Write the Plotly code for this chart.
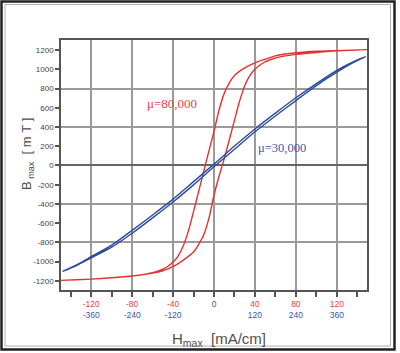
import plotly.graph_objects as go

# ---------------- data ----------------
# mu = 80,000 loop (H in mA/cm, red scale; B in mT)
red_desc_H = [150, 120, 100, 80, 60, 50, 40, 30, 20, 15, 10, 5, 0, -5, -10, -15, -20, -25, -30, -35, -40, -45, -50, -60, -80, -100, -120, -150]
red_desc_B = [1205, 1195, 1188, 1172, 1140, 1105, 1068, 1015, 935, 860, 750, 580, 355, 150, -60, -270, -480, -680, -835, -940, -1005, -1048, -1078, -1115, -1150, -1168, -1182, -1195]
red_asc_H = [-150, -120, -100, -80, -60, -50, -45, -40, -35, -30, -20, -15, -10, -5, 0, 5, 10, 15, 20, 25, 30, 35, 40, 45, 50, 60, 80, 100, 120, 150]
red_asc_B = [-1195, -1182, -1168, -1150, -1120, -1095, -1075, -1050, -1020, -985, -900, -820, -720, -550, -310, -110, 70, 270, 470, 670, 830, 935, 1000, 1045, 1078, 1118, 1155, 1175, 1192, 1205]

# mu = 30,000 loop (H in mA/cm, blue scale; B in mT)
blue_desc_H = [444, 400, 360, 300, 240, 180, 120, 60, 0, -60, -120, -180, -240, -300, -360, -400, -444]
blue_desc_B = [1132, 1065, 990, 852, 704, 544, 380, 202, 14, -168, -350, -515, -675, -828, -948, -1028, -1102]
blue_asc_H = [-444, -400, -360, -300, -240, -180, -120, -60, 0, 60, 120, 180, 240, 300, 360, 400, 444]
blue_asc_B = [-1102, -1035, -962, -850, -705, -545, -380, -202, -14, 168, 350, 515, 675, 830, 970, 1055, 1132]

# tick labels
red_ticks = [-120, -80, -40, 0, 40, 80, 120]
blue_ticks = [-360, -240, -120, None, 120, 240, 360]
y_ticks = [1200, 1000, 800, 600, 400, 200, 0, -200, -400, -600, -800, -1000, -1200]
y_grid = [-800, -400, 0, 400, 800]

RED = "#e2332e"
BLUE = "#2c4c9c"
RED_T = "#e8443c"
BLUE_T = "#3a58a8"
GRID = "#9a9a9a"
AX = "#555555"

# ---------------- figure ----------------
fig = go.Figure()
fig.add_trace(go.Scatter(x=red_desc_H + red_asc_H, y=red_desc_B + red_asc_B,
                         mode="lines", line=dict(color=RED, width=1.4, shape="spline", smoothing=0.6),
                         xaxis="x", yaxis="y", hoverinfo="skip"))
fig.add_trace(go.Scatter(x=blue_desc_H + blue_asc_H, y=blue_desc_B + blue_asc_B,
                         mode="lines", line=dict(color=BLUE, width=1.4, shape="spline", smoothing=0.6),
                         xaxis="x2", yaxis="y2", hoverinfo="skip"))

ticktext = []
for r, b in zip(red_ticks, blue_ticks):
    if b is None:
        ticktext.append('<span style="color:#555555">%d</span>' % r)
    else:
        ticktext.append('<span style="color:%s">%d</span><br><span style="color:%s">%d</span>' % (RED_T, r, BLUE_T, b))

XR = [-149.5, 149.5]
YR = [-1295, 1305]

fig.update_layout(
    width=400, height=353,
    margin=dict(l=61, r=33, t=40, b=63),
    paper_bgcolor="white", plot_bgcolor="white",
    showlegend=False,
    font=dict(family="Liberation Sans, Arial, sans-serif", size=8, color="#444444"),
    xaxis=dict(range=XR, tickmode="array", tickvals=red_ticks, ticktext=ticktext,
               showgrid=True, gridcolor=GRID, gridwidth=1.5, zeroline=False,
               ticks="outside", ticklen=5, tickwidth=1.5, tickcolor=AX,
               minor=dict(dtick=20, tick0=0, ticks="outside", ticklen=5, tickwidth=1.5, tickcolor=AX, showgrid=False),
               showline=True, linecolor=AX, linewidth=1.5, mirror=True,
               tickfont=dict(size=8.5), fixedrange=True),
    xaxis2=dict(range=[XR[0] * 3, XR[1] * 3], overlaying="x", anchor="y2", showgrid=False,
                zeroline=False, showticklabels=False, ticks="", showline=False, fixedrange=True),
    yaxis=dict(range=YR, tickmode="array", tickvals=y_ticks, ticktext=[str(v) for v in y_ticks],
               showgrid=False, zeroline=False,
               ticks="outside", ticklen=4, tickwidth=1.5, tickcolor=AX,
               showline=True, linecolor=AX, linewidth=1.5, mirror=True,
               tickfont=dict(size=8, color="#444444"), fixedrange=True),
    yaxis2=dict(range=YR, overlaying="y", anchor="x2", tickmode="array", tickvals=y_grid,
                showgrid=True, gridcolor=GRID, gridwidth=1.5,
                zeroline=True, zerolinecolor="#666666", zerolinewidth=1.5,
                showticklabels=False, ticks="", showline=False, fixedrange=True),
)

# annotations: curve labels
fig.add_annotation(x=-41, y=640, xref="x", yref="y", text="μ=80,000", showarrow=False,
                   xanchor="center", yanchor="middle",
                   font=dict(family="Liberation Serif, Times New Roman, serif", size=13, color=RED_T))
fig.add_annotation(x=66, y=180, xref="x", yref="y", text="μ=30,000", showarrow=False,
                   xanchor="center", yanchor="middle",
                   font=dict(family="Liberation Serif, Times New Roman, serif", size=12.5, color=BLUE_T))

# axis titles
def px_x(px):
    return (px - 61) / 306.0

def px_y(py):
    return (290 - py) / 250.0

fig.add_annotation(x=px_x(219), y=px_y(339), xref="paper", yref="paper",
                   xanchor="center", yanchor="middle",
                   text="H<sub>max</sub>&nbsp;&nbsp;[mA/cm]", showarrow=False,
                   font=dict(size=15, color="#505050"))
fig.add_annotation(x=px_x(27), y=px_y(154), xref="paper", yref="paper",
                   xanchor="center", yanchor="middle",
                   text="B<sub>&nbsp;max</sub>&nbsp;&nbsp;[&nbsp;m&nbsp;T&nbsp;]", showarrow=False, textangle=-90,
                   font=dict(size=13, color="#505050"))

# outer frame
fig.add_shape(type="rect", xref="paper", yref="paper",
              x0=px_x(1.5), x1=px_x(394.5), y0=px_y(349.5), y1=px_y(1.5),
              line=dict(color="#222222", width=2.5), layer="above")
fig.add_shape(type="rect", xref="paper", yref="paper",
              x0=px_x(5), x1=px_x(390.5), y0=px_y(346), y1=px_y(4.5),
              line=dict(color="#b0b0b0", width=1), layer="above")

fig.write_html("out.html")
